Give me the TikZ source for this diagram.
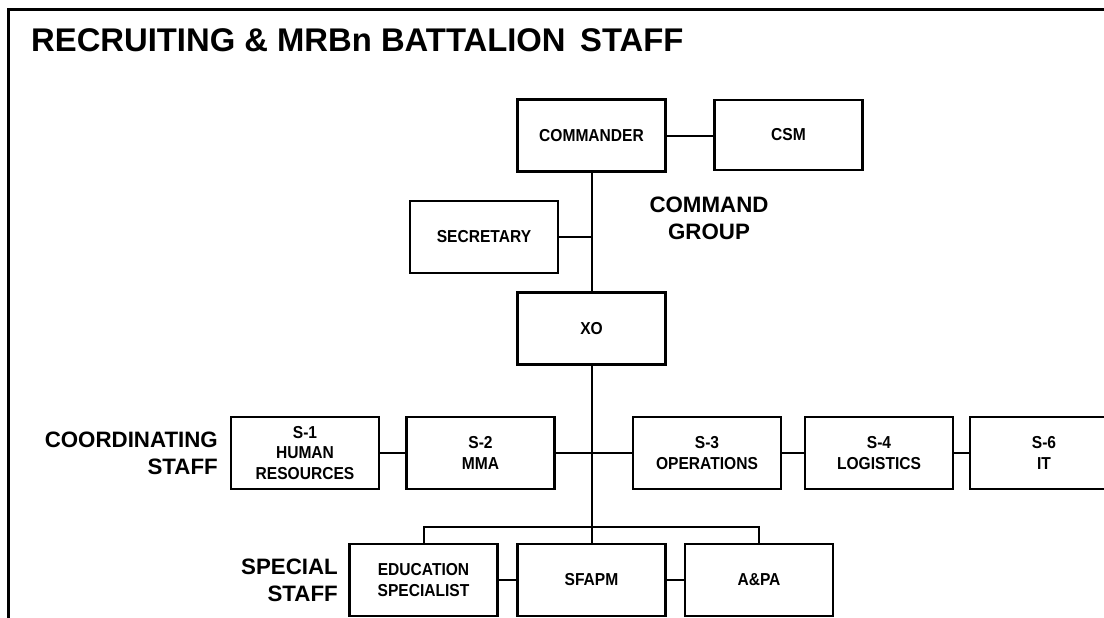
\documentclass[tikz,border=0pt]{standalone}
\usepackage{fontspec}
\setmainfont{Liberation Sans}
\newfontfamily\boxfont[FakeStretch=0.9]{Liberation Sans}
\begin{document}
\begin{tikzpicture}[x=1pt,y=-1pt,
  box/.style={draw, line width=2.3pt, minimum width=148pt, minimum height=72pt, inner sep=0pt, align=center,
    font=\boxfont\bfseries\fontsize{17.3}{20.5}\selectfont},
  conn/.style={line width=2pt},
  grp/.style={font=\bfseries\fontsize{22.3}{27}\selectfont, inner sep=0pt}]
\useasboundingbox (0,0) rectangle (1104,618);
\clip (0,0) rectangle (1104,618);
\fill[white] (0,0) rectangle (1104,618);
% frame
\draw[line width=3pt] (8,630) -- (8,10) -- (1120,10);
% title
\node[anchor=base west, inner sep=0pt, font=\bfseries\fontsize{32.8}{36}\selectfont] (title) at (31,51.5) {RECRUITING \& MRBn BATTALION\, STAFF};
% command group
\node[box] (cdr) at (591.5,135.5) {COMMANDER};
\node[box, minimum height=70pt] (csm) at (788.5,135) {CSM};
\node[box] (sec) at (484,237) {SECRETARY};
\node[box] (xo) at (591.5,328.5) {XO};
\node[grp, align=center] (cg) at (709,218.5) {COMMAND\\GROUP};
% coordinating staff
\node[box] (s1) at (305,453) {S-1\\HUMAN\\RESOURCES};
\node[box] (s2) at (480.5,453) {S-2\\MMA};
\node[box] (s3) at (707,453) {S-3\\OPERATIONS};
\node[box] (s4) at (879,453) {S-4\\LOGISTICS};
\node[box] (s6) at (1044,453) {S-6\\IT};
\node[grp, align=right, anchor=east] (cs) at (218,453) {COORDINATING\\STAFF};
% special staff
\node[box] (edu) at (423.5,580) {EDUCATION\\SPECIALIST};
\node[box] (sfapm) at (591.5,580) {SFAPM};
\node[box] (apa) at (759,580) {A\&PA};
\node[grp, align=right, anchor=east] (ss) at (338,580) {SPECIAL\\STAFF};
% connectors
\coordinate (jsec) at (cdr.south |- sec.east);
\coordinate (jbus) at (cdr.south |- 0,527);
\draw[conn] (cdr.east) -- (csm.west |- cdr.east);
\draw[conn] (cdr.south) -- (xo.north);
\draw[conn] (sec.east) -- (jsec);
\draw[conn] (xo.south) -- (sfapm.north);
\draw[conn] (s1.east) -- (s2.west);
\draw[conn] (s2.east) -- (s3.west);
\draw[conn] (s3.east) -- (s4.west);
\draw[conn] (s4.east) -- (s6.west);
\draw[conn] (edu.north) -- (edu.north |- jbus) -- (apa.north |- jbus) -- (apa.north);
\draw[conn] (edu.east) -- (sfapm.west);
\draw[conn] (sfapm.east) -- (apa.west);
\end{tikzpicture}
\end{document}
